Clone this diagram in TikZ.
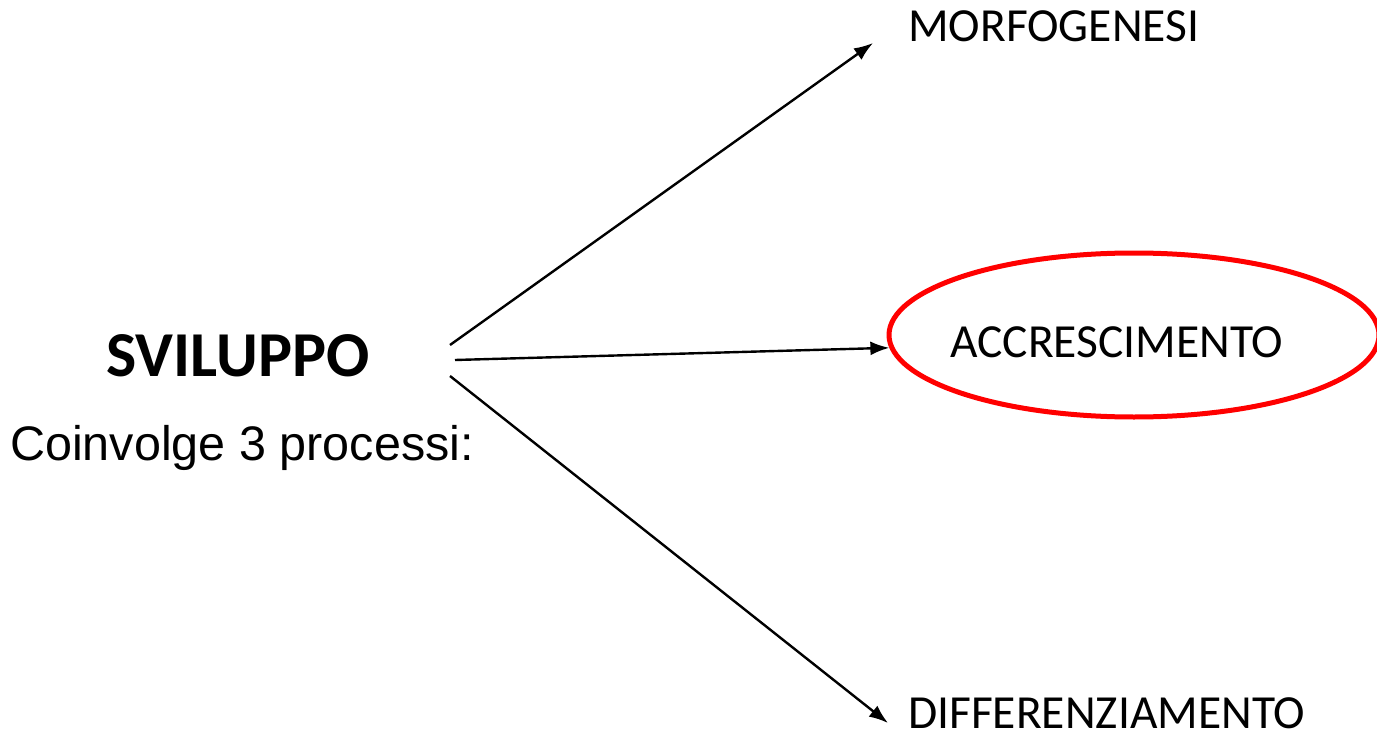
\documentclass[tikz,border=0pt]{standalone}
\usepackage{fontspec}
\setmainfont{Carlito}
\newfontfamily\arialfont{Liberation Sans}
\usetikzlibrary{arrows.meta,shapes.geometric}

\tikzset{
  texto/.style={inner sep=0pt, anchor=base west, font=\fontsize{47.5}{56}\selectfont},
  flecha/.style={line width=2.4pt, -{Latex[length=19pt,width=14pt]}},
}

\begin{document}
\begin{tikzpicture}[x=1pt,y=-1pt]
  \useasboundingbox[fill=white] (0,0) rectangle (1377,733);

  % Titulo y subtitulo
  \node[texto, font=\fontsize{64}{76}\selectfont\bfseries] (sviluppo) at (106,376) {SVILUPPO};
  \node[texto, font=\arialfont\fontsize{48.5}{58}\selectfont] (processi) at (10,460) {Coinvolge 3 processi:};

  % Los tres procesos
  \node[texto] (morfo) at (908,42) {MORFOGENESI};
  \node[texto] (accr) at (950,357) {ACCRESCIMENTO};
  \node[texto, text depth=0pt] (diff) at (908,728) {DIFFERENZIAMENTO};

  % Ovalo rojo
  \node[ellipse, draw=red, line width=5pt, minimum width=490pt, minimum height=164pt, inner sep=0pt] (ovalo) at (1134,335) {};

  % Dibujar las flechas
  \coordinate (salida1) at (450,345);
  \coordinate (salida2) at (455,360);
  \coordinate (salida3) at (450,376);
  \draw[flecha] (salida1) -- ([shift={(-35,1)}]morfo.base west);
  \draw[flecha] (salida2) -- (ovalo.183);
  \draw[flecha] (salida3) -- ([shift={(-20,-5)}]diff.base west);
\end{tikzpicture}
\end{document}
